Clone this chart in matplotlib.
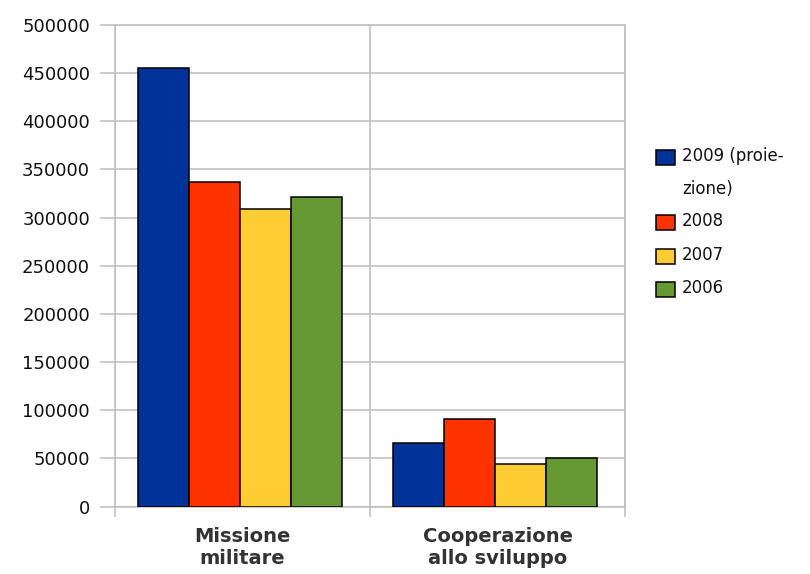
import numpy as np
import matplotlib.pyplot as plt
from matplotlib.patches import Rectangle

# data
categories = ["Missione\nmilitare", "Cooperazione\nallo sviluppo"]
series_labels = ["2009 (proie-\nzione)", "2008", "2007", "2006"]
values_2009 = [455000, 65500]
values_2008 = [337000, 90500]
values_2007 = [309000, 44000]
values_2006 = [321000, 50500]
colors = ["#003399", "#ff3300", "#ffcc33", "#669933"]
yticks = [0, 50000, 100000, 150000, 200000, 250000, 300000, 350000, 400000, 450000, 500000]

series = [values_2009, values_2008, values_2007, values_2006]

fig = plt.figure(figsize=(8.1, 5.74), dpi=100)
ax = fig.add_axes([115 / 810, 1 - 506.5 / 574, 510 / 810, 481.5 / 574])

x = np.arange(len(categories))
width = 0.2
for i, vals in enumerate(series):
    ax.bar(x - 0.31 + i * width, vals, width, color=colors[i],
           edgecolor="black", linewidth=1.1, zorder=3)

gray = "#bdbdbd"
ax.set_xlim(-0.5, 1.5)
ax.set_ylim(0, 500000)
ax.set_yticks(yticks)
ax.set_yticklabels([str(v) for v in yticks], fontsize=13, color="#111111")
ax.tick_params(axis="y", length=11, width=1.1, color=gray, pad=7)
ax.yaxis.grid(True, color=gray, linewidth=1.1, zorder=0)

ax.set_xticks(x)
ax.set_xticklabels(categories, fontsize=14, fontweight="bold", color="#333333")
ax.tick_params(axis="x", which="major", length=0, pad=15)
ax.set_xticks([-0.5, 0.5, 1.5], minor=True)
ax.tick_params(axis="x", which="minor", length=7, width=1.1, color=gray)
ax.xaxis.grid(True, which="minor", color=gray, linewidth=1.1, zorder=0)

for s in ax.spines.values():
    s.set_color(gray)
    s.set_linewidth(1.1)

# legend drawn by hand so the box lines up with the first text line
row_y = [157, 222, 256, 289]
for i, lab in enumerate(series_labels):
    y = row_y[i]
    fig.patches.append(Rectangle((656 / 810, 1 - (y + 7.5) / 574), 19 / 810, 15 / 574,
                                 transform=fig.transFigure, facecolor=colors[i],
                                 edgecolor="black", linewidth=1.1))
    fig.text(682 / 810, 1 - (y - 10) / 574, lab, fontsize=12, va="top", ha="left",
             linespacing=2.1, color="#111111")

fig.savefig("out.png", dpi=100)
